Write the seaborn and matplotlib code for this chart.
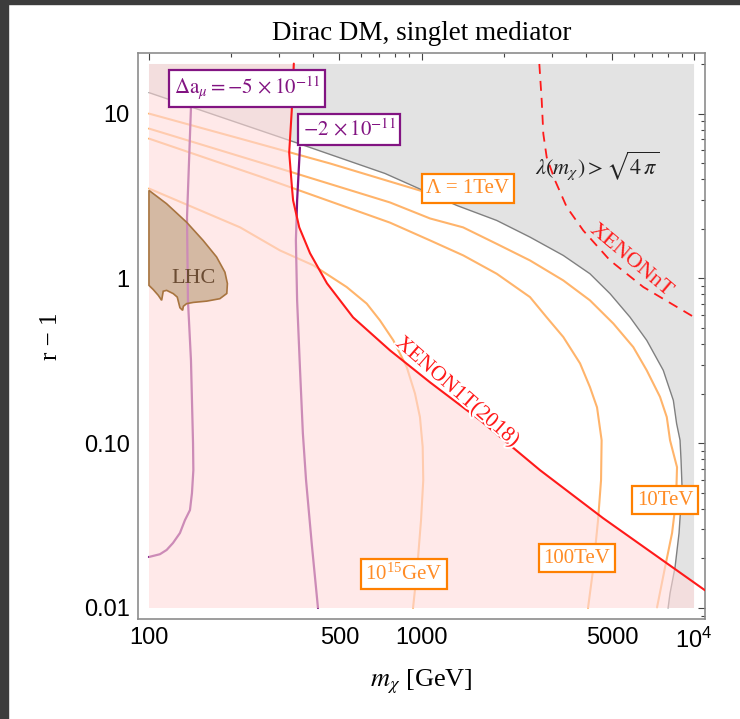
import numpy as np
import seaborn as sns
import matplotlib.pyplot as plt
import matplotlib.patheffects as pe
from matplotlib.patches import Polygon, Rectangle
from matplotlib.ticker import FixedLocator, FixedFormatter, LogLocator, NullFormatter

# range of the shaded data box
m_lim = [100, 1e4]
r_lim = [0.01, 20]

# lambda(m_chi) = sqrt(4 pi) boundary, excluded above/right
lam_m = [100, 346, 735, 1348, 1888, 2501, 3313, 4150, 4918, 5821, 6705, 7709, 8395, 8630, 8884,
         8960, 9036, 8810, 8518, 8166, 8030]
lam_r = [13.4, 6.67, 4.33, 2.77, 2.247, 1.78, 1.378, 1.067, 0.808, 0.582, 0.421, 0.277, 0.182, 0.1316, 0.1043,
         0.0789, 0.0541, 0.0285, 0.0177, 0.0123, 0.01]

# XENON1T(2018) bound (solid) and XENONnT projection (dashed)
x1t_m = [340, 335, 327, 335, 338, 356, 390, 450, 561, 766, 1075, 1639, 2722, 4636, 10975]
x1t_r = [20.1, 11.2, 5.8, 3.5, 2.97, 2.04, 1.42, 0.933, 0.58, 0.366, 0.234, 0.138, 0.0686, 0.0351, 0.0128]
xnt_m = [2706, 2761, 2799, 2880, 3090, 3411, 3925, 4918, 6516, 10000]
xnt_r = [20, 11.99, 7.53, 5.43, 3.93, 2.71, 1.95, 1.285, 0.886, 0.582]

# cutoff scale Lambda contours
lam1_m = [100, 216, 462, 766, 1169]
lam1_r = [10.0, 7.05, 4.98, 3.87, 3.14]
lam10_m = [100, 256, 766, 1075, 1421, 1888, 2501, 3313, 4150, 5058, 5984, 6703, 7502, 7943, 8166,
           8661, 8590, 8306, 7829, 7316]
lam10_r = [8.11, 5.05, 2.89, 2.31, 2.04, 1.62, 1.285, 0.972, 0.736, 0.532, 0.383, 0.277, 0.191, 0.144, 0.104,
           0.0715, 0.0451, 0.0285, 0.0177, 0.0101]
lam100_m = [100, 256, 766, 1075, 1424, 1888, 2501, 2876, 3313, 3817, 4150, 4406, 4580, 4558, 4444, 4260, 4083]
lam100_r = [7.05, 4.15, 2.18, 1.70, 1.378, 1.067, 0.770, 0.582, 0.441, 0.305, 0.219, 0.165, 0.1043,
            0.0597, 0.0341, 0.0170, 0.01]
lam15_m = [100, 216, 302.5, 401, 531.5, 629.5, 704, 788, 882.5, 946.5, 987, 1010, 1015, 996, 963, 931]
lam15_r = [3.51, 2.04, 1.478, 1.2, 0.886, 0.703, 0.556, 0.421, 0.290, 0.200, 0.144, 0.095, 0.0597,
           0.0341, 0.0170, 0.01]

# Delta a_mu contours
amu5_m = [142.6, 137.9, 139.0, 142.6, 145.1, 145.5, 143.8, 141.4, 135.5, 129.9, 122.5, 116.1, 109.7, 100]
amu5_r = [10.87, 2.34, 0.736, 0.318, 0.1, 0.0686, 0.0498, 0.0393, 0.0341, 0.0285, 0.0248, 0.0225, 0.0212, 0.0204]
amu2_m = [358, 349.6, 346, 349.6, 358, 367, 377, 396, 417]
amu2_r = [6.22, 2.97, 1.70, 0.736, 0.289, 0.115, 0.0597, 0.0241, 0.01]

# LHC excluded region
lhc_m = [100, 116, 137.5, 158, 177, 190, 194, 193, 182, 163, 145.5, 137.5, 133.7, 132.9,
         129.9, 127, 122.8, 116.1, 112.8, 111.3, 108.2, 103.7, 100]
lhc_r = [3.42, 2.84, 2.19, 1.70, 1.35, 1.09, 0.93, 0.81, 0.753, 0.728, 0.715, 0.703, 0.677, 0.640,
         0.664, 0.770, 0.808, 0.846, 0.836, 0.736, 0.789, 0.855, 0.907]

x_ticks = [100, 500, 1000, 5000, 10000]
x_labels = ['100', '500', '1000', '5000', r'$\mathregular{10^4}$']
y_ticks = [0.01, 0.1, 1, 10]
y_labels = ['0.01', '0.10', '1', '10']

purple = '#821482'
orange_line = '#ffb46b'
orange_box = '#ff8000'
orange_text = '#ff8c26'
red = '#ff1a1a'

sns.set_style("white")
plt.rcParams.update({
    'font.family': ['Liberation Serif', 'DejaVu Serif'],
    'mathtext.fontset': 'stix',
    'text.color': 'black',
    'axes.labelcolor': 'black',
})

fig = plt.figure(figsize=(7.4, 7.19), dpi=100)
ax = fig.add_axes([0.1865, 0.1391, 0.7662, 0.7872])
ax.set_xscale('log')
ax.set_yscale('log')
ax.set_xlim(m_lim[0] / 1.097, m_lim[1] * 1.097)
ax.set_ylim(r_lim[0] / 1.166, r_lim[1] * 1.166)

clip_box = Rectangle((m_lim[0], r_lim[0]), m_lim[1] - m_lim[0], r_lim[1] - r_lim[0],
                     transform=ax.transData)

# gray region lambda > sqrt(4 pi)
gray_verts = list(zip(lam_m, lam_r)) + [(m_lim[1], r_lim[0]), (m_lim[1], r_lim[1]), (m_lim[0], r_lim[1])]
ax.add_patch(Polygon(gray_verts, closed=True, fc='#e3e3e3', ec='none', zorder=1))

# LHC fill (below the pink overlay)
lhc_verts = list(zip(lhc_m, lhc_r))
ax.add_patch(Polygon(lhc_verts, closed=True, fc='#968750', ec='none', zorder=1.5))

# contour lines
for xs, ys in [(lam1_m, lam1_r), (lam10_m, lam10_r), (lam100_m, lam100_r), (lam15_m, lam15_r)]:
    sns.lineplot(x=xs, y=ys, sort=False, estimator=None, color=orange_line, lw=1.5, ax=ax, zorder=2)
for xs, ys in [(amu5_m, amu5_r), (amu2_m, amu2_r)]:
    sns.lineplot(x=xs, y=ys, sort=False, estimator=None, color=purple, lw=1.6, ax=ax, zorder=2)
sns.lineplot(x=lam_m, y=lam_r, sort=False, estimator=None, color='#808080', lw=1.0, ax=ax, zorder=2)

# pink XENON1T-excluded overlay
pink_verts = [(m_lim[0], r_lim[1])] + list(zip(x1t_m, x1t_r)) + [(x1t_m[-1], r_lim[0]), (m_lim[0], r_lim[0])]
pink = Polygon(pink_verts, closed=True, fc=(1.0, 0.86, 0.86), alpha=0.6, ec='none', zorder=3)
ax.add_patch(pink)
pink.set_clip_path(clip_box)

ax.add_patch(Polygon(lhc_verts, closed=True, fc='none', ec='#a8743f', lw=1.2, zorder=5))

sns.lineplot(x=x1t_m, y=x1t_r, sort=False, estimator=None, color=red, lw=1.5, ax=ax, zorder=6)
sns.lineplot(x=xnt_m, y=xnt_r, sort=False, estimator=None, color=red, lw=1.3, ax=ax, zorder=6)
ax.lines[-1].set_dashes((5.5, 3.9))

# labels
def boxed(x, y, s, col, tcol, size=15):
    ax.text(x, y, s, color=tcol, ha='center', va='center', fontsize=size, zorder=8,
            bbox=dict(boxstyle='square,pad=0.22', fc='white', ec=col, lw=1.6))

boxed(229, 14.2, r'$\Delta\mathrm{a}_\mu = -5\,\times10^{-11}$', purple, purple)
boxed(542, 8.0, r'$-2\,\times10^{-11}$', purple, purple)
boxed(1481, 3.51, 'Λ = 1TeV', orange_box, orange_text)
boxed(7829, 0.0451, '10TeV', orange_box, orange_text)
boxed(3721, 0.0201, '100TeV', orange_box, orange_text)
boxed(863, 0.0161, r'$\mathregular{10^{15}}$GeV', orange_box, orange_text)

ax.text(4406, 4.84, r'$\lambda(m_\chi) > \sqrt{4\,\pi}$', fontsize=16, ha='center', va='center',
        color='#222222', zorder=8)
ax.text(5872, 1.285, 'XENONnT', fontsize=16, color=red, rotation=-40, ha='center', va='center',
        rotation_mode='anchor', zorder=8)
ax.text(1349, 0.204, 'XENON1T(2018)', fontsize=15.5, color=red, rotation=-41, ha='center', va='center',
        rotation_mode='anchor', zorder=8,
        path_effects=[pe.withStroke(linewidth=3, foreground='white')])
ax.text(146, 1.0, 'LHC', fontsize=16, color='#6b4c33', ha='center', va='center', zorder=8)

# axes, ticks
ax.xaxis.set_major_locator(FixedLocator(x_ticks))
ax.xaxis.set_major_formatter(FixedFormatter(x_labels))
ax.xaxis.set_minor_locator(LogLocator(base=10, subs=np.arange(2, 10), numticks=20))
ax.xaxis.set_minor_formatter(NullFormatter())
ax.yaxis.set_major_locator(FixedLocator(y_ticks))
ax.yaxis.set_major_formatter(FixedFormatter(y_labels))
ax.yaxis.set_minor_locator(LogLocator(base=10, subs=np.arange(2, 10), numticks=20))
ax.yaxis.set_minor_formatter(NullFormatter())
ax.tick_params(which='both', direction='in', top=True, right=True, color='#444444', width=0.8,
               labelsize=17, labelfontfamily='Liberation Sans', labelcolor='black', pad=6)
ax.tick_params(which='major', length=5)
ax.tick_params(which='minor', length=3.2)
for sp in ax.spines.values():
    sp.set_color('#8c8c8c')
    sp.set_linewidth(1.2)

ax.set_title('Dirac DM, singlet mediator', fontsize=19.5, pad=9)
ax.set_xlabel(r'$m_{\chi}$ [GeV]', fontsize=19, labelpad=11)
ax.set_ylabel('r − 1', fontsize=18, labelpad=16)

# screenshot frame
fig.add_artist(Rectangle((0, 0), 8 / 740, 1, transform=fig.transFigure, color='#3c3c3c', zorder=10))
fig.add_artist(Rectangle((0, 1 - 4 / 719), 1, 4 / 719, transform=fig.transFigure, color='#3c3c3c', zorder=10))

fig.savefig('out.png', dpi=100)
